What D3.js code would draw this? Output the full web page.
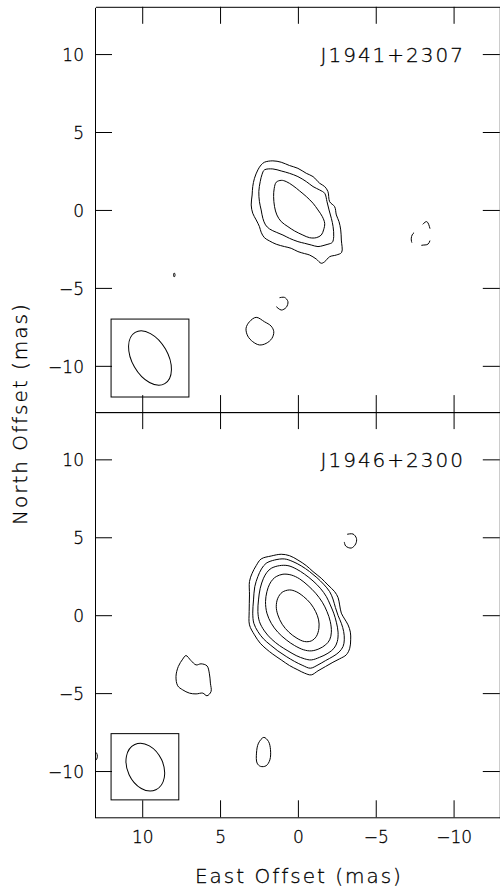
<!DOCTYPE html>
<html><head><meta charset="utf-8">
<script src="https://cdn.jsdelivr.net/npm/d3@7"></script>
<style>body{margin:0;background:#fff}svg{display:block}</style>
</head><body>
<svg id="chart" width="500" height="888"></svg>
<script>
// ---------- data (offsets in mas) ----------
const xTicks = [10, 5, 0, -5, -10];
const yTicks = [10, 5, 0, -5, -10];
const axisDomain = [13, -13];
const sourceNames = ["J1941+2307", "J1946+2300"];
const xTitle = "East Offset (mas)";
const yTitle = "North Offset (mas)";

// J1941+2307 contours
const top1Outer = [[2.15,3.06],[1.61,3.15],[1.07,3.06],[0.54,2.85],[0.00,2.67],[-0.54,2.35],[-0.97,2.14],[-1.40,1.71],[-1.72,1.50],[-1.93,1.18],[-2.04,0.53],[-2.36,0.21],[-2.47,-0.32],[-2.64,-0.75],[-2.75,-1.28],[-2.79,-1.93],[-2.81,-2.72],[-2.47,-2.89],[-2.04,-3.00],[-1.72,-3.32],[-1.50,-3.42],[-1.18,-3.15],[-0.75,-2.89],[-0.43,-2.80],[0.00,-2.67],[0.43,-2.46],[0.86,-2.35],[1.39,-2.20],[1.82,-1.99],[2.15,-1.78],[2.36,-1.43],[2.47,-1.07],[2.68,-0.64],[2.90,-0.21],[3.00,0.32],[2.94,0.96],[2.90,1.50],[2.79,2.03],[2.57,2.57],[2.36,2.89]];
const top1Middle = [[2.15,2.57],[1.61,2.63],[1.07,2.50],[0.54,2.35],[0.00,2.14],[-0.54,1.82],[-0.97,1.50],[-1.40,1.28],[-1.72,1.07],[-1.87,0.53],[-2.00,0.00],[-2.15,-0.54],[-2.26,-1.07],[-2.30,-1.71],[-2.21,-2.08],[-1.93,-2.20],[-1.61,-2.29],[-1.29,-2.35],[-0.86,-2.25],[-0.43,-2.14],[0.00,-2.03],[0.54,-1.82],[0.96,-1.61],[1.39,-1.43],[1.82,-1.22],[2.08,-0.96],[2.25,-0.54],[2.36,0.00],[2.47,0.53],[2.51,1.18],[2.42,1.82],[2.30,2.29]];
const top1Inner = [[1.39,1.78],[1.07,1.90],[0.75,1.82],[0.32,1.56],[-0.11,1.22],[-0.54,0.86],[-0.97,0.43],[-1.29,0.00],[-1.57,-0.43],[-1.72,-0.86],[-1.65,-1.28],[-1.50,-1.61],[-1.18,-1.78],[-0.75,-1.78],[-0.32,-1.61],[0.21,-1.35],[0.64,-1.07],[1.07,-0.75],[1.35,-0.32],[1.50,0.21],[1.56,0.86],[1.52,1.39]];
const top1Dot = [[7.94,-4.04],[7.89,-4.17],[7.94,-4.30],[7.99,-4.17]];
const top1Blob = [[2.68,-6.89],[2.15,-7.17],[1.72,-7.45],[1.55,-7.81],[1.67,-8.24],[2.04,-8.56],[2.47,-8.66],[2.90,-8.45],[3.22,-8.09],[3.33,-7.59],[3.11,-7.17]];
const top1Arc = [[1.18,-5.63],[0.86,-5.61],[0.64,-5.88],[0.75,-6.25],[1.07,-6.42],[1.39,-6.20]];
const top1Negative = [[-7.73,-1.24],[-8.27,-0.75],[-8.48,-1.18],[-8.54,-1.60],[-8.37,-2.18],[-7.94,-2.27],[-7.56,-2.40],[-7.30,-2.03],[-7.34,-1.60]];

// J1946+2300 contours
const bot5 = [[2.36,3.61],[1.71,3.80],[1.07,3.91],[0.54,3.82],[0.00,3.54],[-0.54,3.18],[-0.97,2.80],[-1.50,2.37],[-1.93,1.94],[-2.36,1.51],[-2.58,1.13],[-2.68,0.66],[-2.79,0.13],[-3.00,-0.24],[-3.22,-0.62],[-3.37,-1.09],[-3.39,-1.58],[-3.33,-2.12],[-3.11,-2.54],[-2.68,-2.80],[-2.25,-3.02],[-1.78,-3.29],[-1.29,-3.57],[-0.86,-3.83],[-0.43,-3.72],[0.00,-3.51],[0.54,-3.23],[1.07,-2.87],[1.61,-2.50],[2.04,-2.16],[2.42,-1.80],[2.79,-1.26],[3.11,-0.62],[3.13,0.23],[3.11,1.30],[3.11,2.16],[2.94,2.69],[2.68,3.18]];
const bot4 = [[2.04,3.33],[1.50,3.54],[0.86,3.61],[0.32,3.44],[-0.22,3.16],[-0.75,2.80],[-1.22,2.41],[-1.65,1.99],[-2.04,1.51],[-2.25,1.04],[-2.41,0.49],[-2.58,-0.02],[-2.79,-0.52],[-2.94,-1.05],[-2.98,-1.58],[-2.90,-2.01],[-2.64,-2.37],[-2.25,-2.65],[-1.78,-2.91],[-1.29,-3.19],[-0.80,-3.40],[-0.32,-3.23],[0.21,-2.97],[0.75,-2.65],[1.29,-2.29],[1.78,-1.90],[2.21,-1.52],[2.57,-1.05],[2.83,-0.52],[2.90,0.13],[2.85,0.98],[2.77,1.83],[2.57,2.48],[2.34,2.97]];
const bot3 = [[1.71,3.01],[1.18,3.18],[0.64,3.18],[0.11,2.97],[-0.43,2.63],[-0.97,2.20],[-1.44,1.73],[-1.83,1.19],[-2.08,0.66],[-2.30,0.13],[-2.47,-0.45],[-2.58,-1.09],[-2.53,-1.69],[-2.32,-2.12],[-1.93,-2.44],[-1.40,-2.70],[-0.86,-2.87],[-0.43,-2.80],[0.11,-2.59],[0.64,-2.29],[1.18,-1.95],[1.71,-1.52],[2.15,-1.01],[2.47,-0.41],[2.57,0.23],[2.53,0.98],[2.42,1.73],[2.21,2.37],[1.99,2.75]];
const bot2 = [[1.39,2.48],[0.96,2.63],[0.43,2.58],[-0.11,2.33],[-0.65,1.90],[-1.14,1.41],[-1.57,0.83],[-1.87,0.23],[-2.08,-0.41],[-2.15,-1.09],[-2.04,-1.58],[-1.78,-1.90],[-1.35,-2.16],[-0.86,-2.29],[-0.37,-2.22],[0.21,-1.95],[0.75,-1.58],[1.29,-1.09],[1.71,-0.52],[1.99,0.13],[2.08,0.87],[1.99,1.51],[1.82,1.99],[1.61,2.30]];
const bot1 = [[0.54,1.62],[0.11,1.51],[-0.37,1.19],[-0.80,0.77],[-1.14,0.23],[-1.33,-0.30],[-1.35,-0.84],[-1.18,-1.37],[-0.86,-1.65],[-0.43,-1.69],[0.06,-1.48],[0.58,-1.09],[1.01,-0.58],[1.29,0.02],[1.39,0.55],[1.29,1.09],[1.01,1.47]];
const botBlob = [[7.19,-2.59],[6.87,-2.91],[6.54,-3.19],[6.22,-3.12],[5.84,-3.25],[5.69,-3.72],[5.62,-4.36],[5.58,-4.90],[5.84,-5.17],[6.11,-5.00],[6.54,-5.05],[6.97,-5.00],[7.40,-4.79],[7.72,-4.53],[7.83,-3.93],[7.68,-3.29],[7.40,-2.82]];
const botOval = [[2.19,-7.84],[1.89,-8.10],[1.76,-8.63],[1.80,-9.28],[2.04,-9.66],[2.40,-9.70],[2.62,-9.49],[2.66,-8.85],[2.53,-8.21]];
const botArc = [[-3.16,5.19],[-3.54,5.21],[-3.76,4.93],[-3.71,4.57],[-3.43,4.31],[-3.07,4.44],[-2.98,4.70]];
const botEdge = [[13.10,-8.70],[12.93,-8.85],[12.88,-9.05],[12.93,-9.25],[13.10,-9.42]];

// restoring beams: box corners and ellipse (centre, semi-axes in mas, tilt in deg)
const beamBoxes = [[[12, -7], [7, -12]], [[12, -7.6], [7.65, -11.85]]];
const beamEllipses = [[9.5, -9.5, 1.15, 1.9, -30], [9.8, -9.75, 1.15, 1.6, -25]];

const closedContours = [[top1Outer, top1Middle, top1Inner, top1Dot, top1Blob], [bot5, bot4, bot3, bot2, bot1, botBlob, botOval]];
const openContours = [[top1Arc], [botArc, botEdge]];
const dashedContours = [[top1Negative], []];

// ---------- drawing ----------
const svg = d3.select("#chart");
const FONT = "'DejaVu Sans', sans-serif";
const x = d3.scaleLinear().domain(axisDomain).range([95.5, 500.3]);
const yRanges = [[7.3, 412.6], [412.6, 817.8]];
const TICK = 17;

const lineClosed = (ys) => d3.line().x(d => x(d[0])).y(d => ys(d[1])).curve(d3.curveCatmullRomClosed.alpha(0.5));
const lineOpen = (ys) => d3.line().x(d => x(d[0])).y(d => ys(d[1])).curve(d3.curveCatmullRom.alpha(0.5));
const textStyle = sel => sel.attr("font-family", FONT).attr("font-weight", 200)
  .attr("fill", "#000").attr("stroke", "#000").attr("stroke-width", 0.3);

sourceNames.forEach((name, i) => {
  const y = d3.scaleLinear().domain(axisDomain).range(yRanges[i]);
  const g = svg.append("g");
  const clipId = "clip" + i;
  svg.append("clipPath").attr("id", clipId).append("rect")
    .attr("x", x.range()[0]).attr("y", yRanges[i][0])
    .attr("width", x.range()[1] - x.range()[0]).attr("height", yRanges[i][1] - yRanges[i][0]);
  const plot = g.append("g").attr("clip-path", `url(#${clipId})`);

  closedContours[i].forEach(c => plot.append("path").attr("d", lineClosed(y)(c))
    .attr("fill", "none").attr("stroke", "#000").attr("stroke-width", 1));
  openContours[i].forEach(c => plot.append("path").attr("d", lineOpen(y)(c))
    .attr("fill", "none").attr("stroke", "#000").attr("stroke-width", 1));
  dashedContours[i].forEach(c => plot.append("path").attr("d", lineClosed(y)(c))
    .attr("fill", "none").attr("stroke", "#000").attr("stroke-width", 1)
    .attr("stroke-dasharray", "11,12").attr("stroke-dashoffset", 3));

  // beam
  const bb = beamBoxes[i];
  plot.append("rect").attr("x", x(bb[0][0])).attr("y", y(bb[0][1]))
    .attr("width", x(bb[1][0]) - x(bb[0][0])).attr("height", y(bb[1][1]) - y(bb[0][1]))
    .attr("fill", "#fff").attr("stroke", "#000").attr("stroke-width", 1);
  const be = beamEllipses[i];
  plot.append("ellipse").attr("cx", 0).attr("cy", 0)
    .attr("rx", Math.abs(x(be[2]) - x(0))).attr("ry", Math.abs(y(be[3]) - y(0)))
    .attr("transform", `translate(${x(be[0])},${y(be[1])}) rotate(${be[4]})`)
    .attr("fill", "none").attr("stroke", "#000").attr("stroke-width", 1);

  // axes (ticks inside on all four sides)
  const styleAxis = sel => {
    sel.attr("font-family", FONT).attr("font-size", 17).attr("color", "#000");
    sel.selectAll("path,line").attr("stroke-width", 1);
    sel.selectAll("text").call(textStyle);
  };
  g.append("g").attr("transform", `translate(${x.range()[0] - 0.5},0)`)
    .call(d3.axisLeft(y).tickValues(yTicks).tickSize(-TICK).tickSizeOuter(0).tickPadding(11))
    .call(styleAxis).selectAll("text").attr("dy", "0.38em");
  g.append("g").attr("transform", `translate(${x.range()[1] - 0.5},0)`)
    .call(d3.axisRight(y).tickValues(yTicks).tickSize(-TICK).tickSizeOuter(0).tickFormat(""))
    .call(styleAxis);
  g.append("g").attr("transform", `translate(0,${yRanges[i][0] - 0.5})`)
    .call(d3.axisTop(x).tickValues(xTicks).tickSize(-TICK).tickSizeOuter(0).tickFormat(""))
    .call(styleAxis);
  const bottom = g.append("g").attr("transform", `translate(0,${yRanges[i][1] - 0.5})`)
    .call(d3.axisBottom(x).tickValues(xTicks).tickSize(-TICK).tickSizeOuter(0).tickPadding(14))
    .call(styleAxis);
  if (i === 0) bottom.selectAll("text").remove();

  // source name
  g.append("text").attr("x", 465).attr("y", y(10) + 7.5)
    .attr("text-anchor", "end").attr("font-size", 20)
    .attr("letter-spacing", 2).call(textStyle).text(name);
});

svg.append("text").attr("x", (x.range()[0] + x.range()[1]) / 2 + 1).attr("y", 883)
  .attr("text-anchor", "middle").attr("font-size", 20)
  .attr("letter-spacing", 2).call(textStyle).text(xTitle);
svg.append("text").attr("transform", `translate(27,${yRanges[0][1] + 1}) rotate(-90)`)
  .attr("text-anchor", "middle").attr("font-size", 20)
  .attr("letter-spacing", 2).call(textStyle).text(yTitle);
</script>
</body></html>
